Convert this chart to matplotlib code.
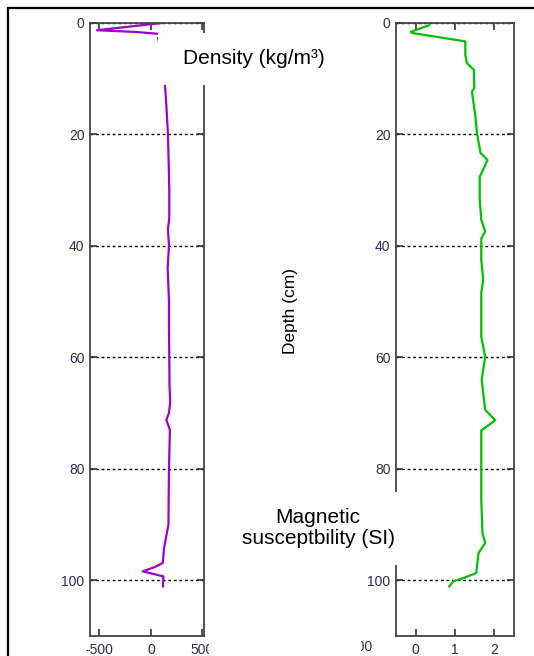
import matplotlib
matplotlib.use("Agg")
import matplotlib.pyplot as plt
from matplotlib.patches import Rectangle

plt.rcParams['font.family'] = ['Liberation Sans', 'DejaVu Sans']
plt.rcParams['axes.unicode_minus'] = False

# density profile (depth in cm, density)
dens_depth = [0, 1.3, 1.6, 2.0, 2.7, 5, 7.2, 10.8, 15, 20, 25, 30, 35, 37, 40, 44, 50,
              55, 60, 65, 68, 70, 71.2, 73, 80, 85, 90, 94, 96.9, 97.6, 98.4, 99.3, 101.1]
dens_val = [105, -525, -150, 105, 70, 95, 105, 135, 150, 165, 172, 178, 178, 165, 175, 162, 175,
            175, 178, 180, 187, 175, 149, 184, 175, 172, 170, 129, 114, 40, -80, 120, 117]

# magnetic susceptibility profile
mag_depth = [0.4, 1.6, 1.8, 3.3, 5.7, 7.2, 8.4, 11.7, 12.3, 16.8, 19.8, 23.3, 24.6, 27.6, 31.7,
             35.3, 37.4, 38.7, 42.5, 46.1, 48.4, 56.3, 59.9, 64.0, 69.4, 71.3, 73.1, 85.6,
             91.5, 93.3, 95.1, 98.7, 99.6, 100.2, 101.1]
mag_val = [0.34, -0.13, -0.09, 1.27, 1.27, 1.31, 1.49, 1.50, 1.44, 1.53, 1.57, 1.66, 1.84, 1.64, 1.64,
           1.68, 1.78, 1.68, 1.68, 1.73, 1.68, 1.68, 1.78, 1.69, 1.78, 2.04, 1.68, 1.68,
           1.71, 1.78, 1.61, 1.55, 1.22, 0.96, 0.86]

depth_ticks = [0, 20, 40, 60, 80, 100]
dens_ticks = [-500, 0, 500]
mag_ticks = [0, 1, 2]

W, H = 534, 656
tick_col = '#2c2c55'
tick_size = 10


def fx(px):
    return px / W


def fy(py):
    return 1 - py / H


fig = plt.figure(figsize=(W / 100, H / 100), dpi=100)


def make_axes(x0, x1, xlim, xticks):
    ax = fig.add_axes([fx(x0), fy(636), fx(x1) - fx(x0), fy(23) - fy(636)])
    ax.set_ylim(110, 0)
    ax.set_xlim(*xlim)
    ax.set_yticks(depth_ticks)
    ax.set_xticks(xticks)
    ax.tick_params(direction='in', length=5, width=1.2, color='#333333',
                   top=True, right=True, labelsize=tick_size, labelcolor=tick_col, pad=4)
    ax.tick_params(axis='x', pad=5)
    for s in ax.spines.values():
        s.set_color('#444444')
        s.set_linewidth(1.3)
    ax.yaxis.grid(True, color='black', linestyle=(0, (2, 2)), linewidth=1)
    return ax


ax1 = make_axes(90, 204, (-592, 515), dens_ticks)
ax1.plot(dens_val, dens_depth, color='#a000c8', lw=1.6)

ax2 = make_axes(396, 514, (-0.51, 2.52), mag_ticks)
ax2.plot(mag_val, mag_depth, color='#00c000', lw=1.6)

# outer frame
fig.add_artist(Rectangle((fx(8), -0.2), 1.5, fy(8) + 0.2, transform=fig.transFigure,
                         fill=False, edgecolor='black', lw=1.6, clip_on=False))

# white label boxes laid over the plots
for x0, y0, x1, y1 in [(158, 33, 350, 85), (235, 492, 405, 565), (209, 638, 361, 660)]:
    fig.add_artist(Rectangle((fx(x0), fy(y1)), fx(x1) - fx(x0), fy(y0) - fy(y1),
                             transform=fig.transFigure, facecolor='white',
                             edgecolor='none', zorder=5))

fig.text(fx(373), fy(647), '500', ha='right', va='center', fontsize=tick_size,
         color=tick_col, zorder=4)

fig.text(fx(254), fy(59), 'Density (kg/m³)', ha='center', va='center', fontsize=15, zorder=6)
fig.text(fx(291), fy(311), 'Depth (cm)', ha='center', va='center', rotation=90,
         fontsize=12.5, zorder=6)
fig.text(fx(318), fy(528), 'Magnetic\nsusceptbility (SI)', ha='center', va='center',
         fontsize=15, linespacing=1.1, zorder=6)

fig.savefig('out.png', dpi=100)
